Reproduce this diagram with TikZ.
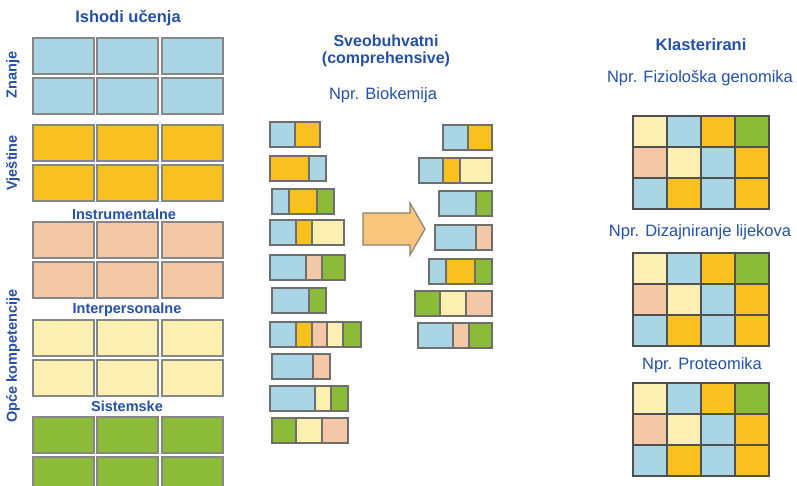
\documentclass[tikz,border=0pt]{standalone}
\usepackage{fontspec}
\setmainfont{Liberation Sans}
\usepackage{tikz}
\usetikzlibrary{
  positioning,
  calc
}
\definecolor{knowcolor}{RGB}{170, 213, 228}
\definecolor{skillcolor}{RGB}{249, 193, 32}
\definecolor{instrcolor}{RGB}{244, 200, 166}
\definecolor{interpcolor}{RGB}{251, 240, 178}
\definecolor{systcolor}{RGB}{140, 187, 58}
\definecolor{arrowfill}{RGB}{247, 198, 124}
\definecolor{textblue}{RGB}{36, 80, 168}
\definecolor{blockline}{RGB}{135, 135, 135}
\definecolor{stripeline}{RGB}{110, 110, 110}
\definecolor{cellline}{RGB}{80, 80, 80}
\tikzset{
titlelabel/.style={
  font=\bfseries\fontsize{16.5}{18}\selectfont,
  text=textblue,
  align=center
},
grouplabel/.style={
  font=\bfseries\fontsize{14.5}{16}\selectfont,
  text=textblue,
  align=center
},
examplelabel/.style={
  font=\fontsize{16.5}{18}\selectfont,
  text=textblue,
  align=center
},
outcomeblock/.style={
  draw=blockline,
  line width=1.8pt
},
stripe/.style={
  draw=stripeline,
  line width=1.4pt
},
cell/.style={
  draw=cellline,
  line width=1.2pt
},
shiftarrow/.style={
  draw=stripeline!80!arrowfill,
  fill=arrowfill,
  line width=1.2pt,
  line join=miter
}
}

\begin{document}
\begin{tikzpicture}[x=1pt, y=-1pt]
  \useasboundingbox (0,0) rectangle (797,486);
  \clip (0,0) rectangle (797,486);
  \fill[white] (0,0) rectangle (797,486);

  % --- Ishodi ucenja ---
  \node[titlelabel] (outcomes) at (128,18) {Ishodi učenja};
  \foreach \y/\c in {38/knowcolor, 78/knowcolor, 125/skillcolor, 165/skillcolor,
                     222/instrcolor, 262/instrcolor, 320/interpcolor, 360/interpcolor,
                     417/systcolor, 457/systcolor}
    \foreach \x in {33,97,162}
      \draw[outcomeblock, fill=\c] (\x,\y) rectangle ++(61,36);
  \node[grouplabel, rotate=90] (znanje) at (13,75) {Znanje};
  \node[grouplabel, rotate=90] (vjestine) at (13,163) {Vještine};
  \node[grouplabel, rotate=90] (opce) at (13,356) {Opće kompetencije};
  \node[grouplabel] (instr) at (124,214) {Instrumentalne};
  \node[grouplabel] (interp) at (127,310) {Interpersonalne};
  \node[grouplabel] (sist) at (127,406) {Sistemske};

  % --- Sveobuhvatni ---
  \node[titlelabel, font=\bfseries\fontsize{16}{17}\selectfont] (compr) at (386,51)
    {Sveobuhvatni\\(comprehensive)};
  \node[examplelabel] (biokem) at (383,95) {Npr. Biokemija};
  \foreach \y/\segs in {
      122/{270/295/knowcolor,295/320/skillcolor},
      156/{270/309/skillcolor,309/326/knowcolor},
      189/{272/289/knowcolor,289/317/skillcolor,317/334/systcolor},
      220/{270/296/knowcolor,296/312/skillcolor,312/344/interpcolor},
      255/{270/306/knowcolor,306/322/instrcolor,322/345/systcolor},
      288/{272/309/knowcolor,309/326/systcolor},
      322/{270/296/knowcolor,296/312/skillcolor,312/327/instrcolor,327/343/interpcolor,343/361/systcolor},
      354/{272/313/knowcolor,313/330/instrcolor},
      386/{270/315/knowcolor,315/331/interpcolor,331/348/systcolor},
      418/{272/296/systcolor,296/322/interpcolor,322/348/instrcolor}}
    \foreach \xa/\xb/\c in \segs
      \draw[stripe, fill=\c] (\xa,\y) rectangle (\xb,\y+25);

  \draw[shiftarrow] (363,213) -- (410,213) -- (410,203) -- (425,229)
    -- (410,255) -- (410,245) -- (363,245) -- cycle;

  \foreach \y/\segs in {
      125/{443/468/knowcolor,468/492/skillcolor},
      158/{419/443/knowcolor,443/460/skillcolor,460/492/interpcolor},
      191/{439/476/knowcolor,476/492/systcolor},
      225/{435/476/knowcolor,476/492/instrcolor},
      259/{429/446/knowcolor,446/475/skillcolor,475/492/systcolor},
      291/{415/440/systcolor,440/466/interpcolor,466/492/instrcolor},
      323/{418/453/knowcolor,453/469/instrcolor,469/492/systcolor}}
    \foreach \xa/\xb/\c in \segs
      \draw[stripe, fill=\c] (\xa,\y) rectangle (\xb,\y+25);

  % --- Klasterirani ---
  \node[titlelabel] (cluster) at (701,45) {Klasterirani};
  \node[examplelabel] (fiziol) at (700,78) {Npr. Fiziološka genomika};
  \node[examplelabel] (dizajn) at (700,232) {Npr. Dizajniranje lijekova};
  \node[examplelabel] (proteo) at (702,365) {Npr. Proteomika};
  \foreach \gy in {116,253,383}
    \foreach \row/\cols in {0/{interpcolor,knowcolor,skillcolor,systcolor},
                            1/{instrcolor,interpcolor,knowcolor,skillcolor},
                            2/{knowcolor,skillcolor,knowcolor,skillcolor}}
      \foreach \c [count=\col from 0] in \cols
        \draw[cell, fill=\c] (633+\col*34,\gy+\row*31) rectangle ++(34,31);
\end{tikzpicture}
\end{document}
